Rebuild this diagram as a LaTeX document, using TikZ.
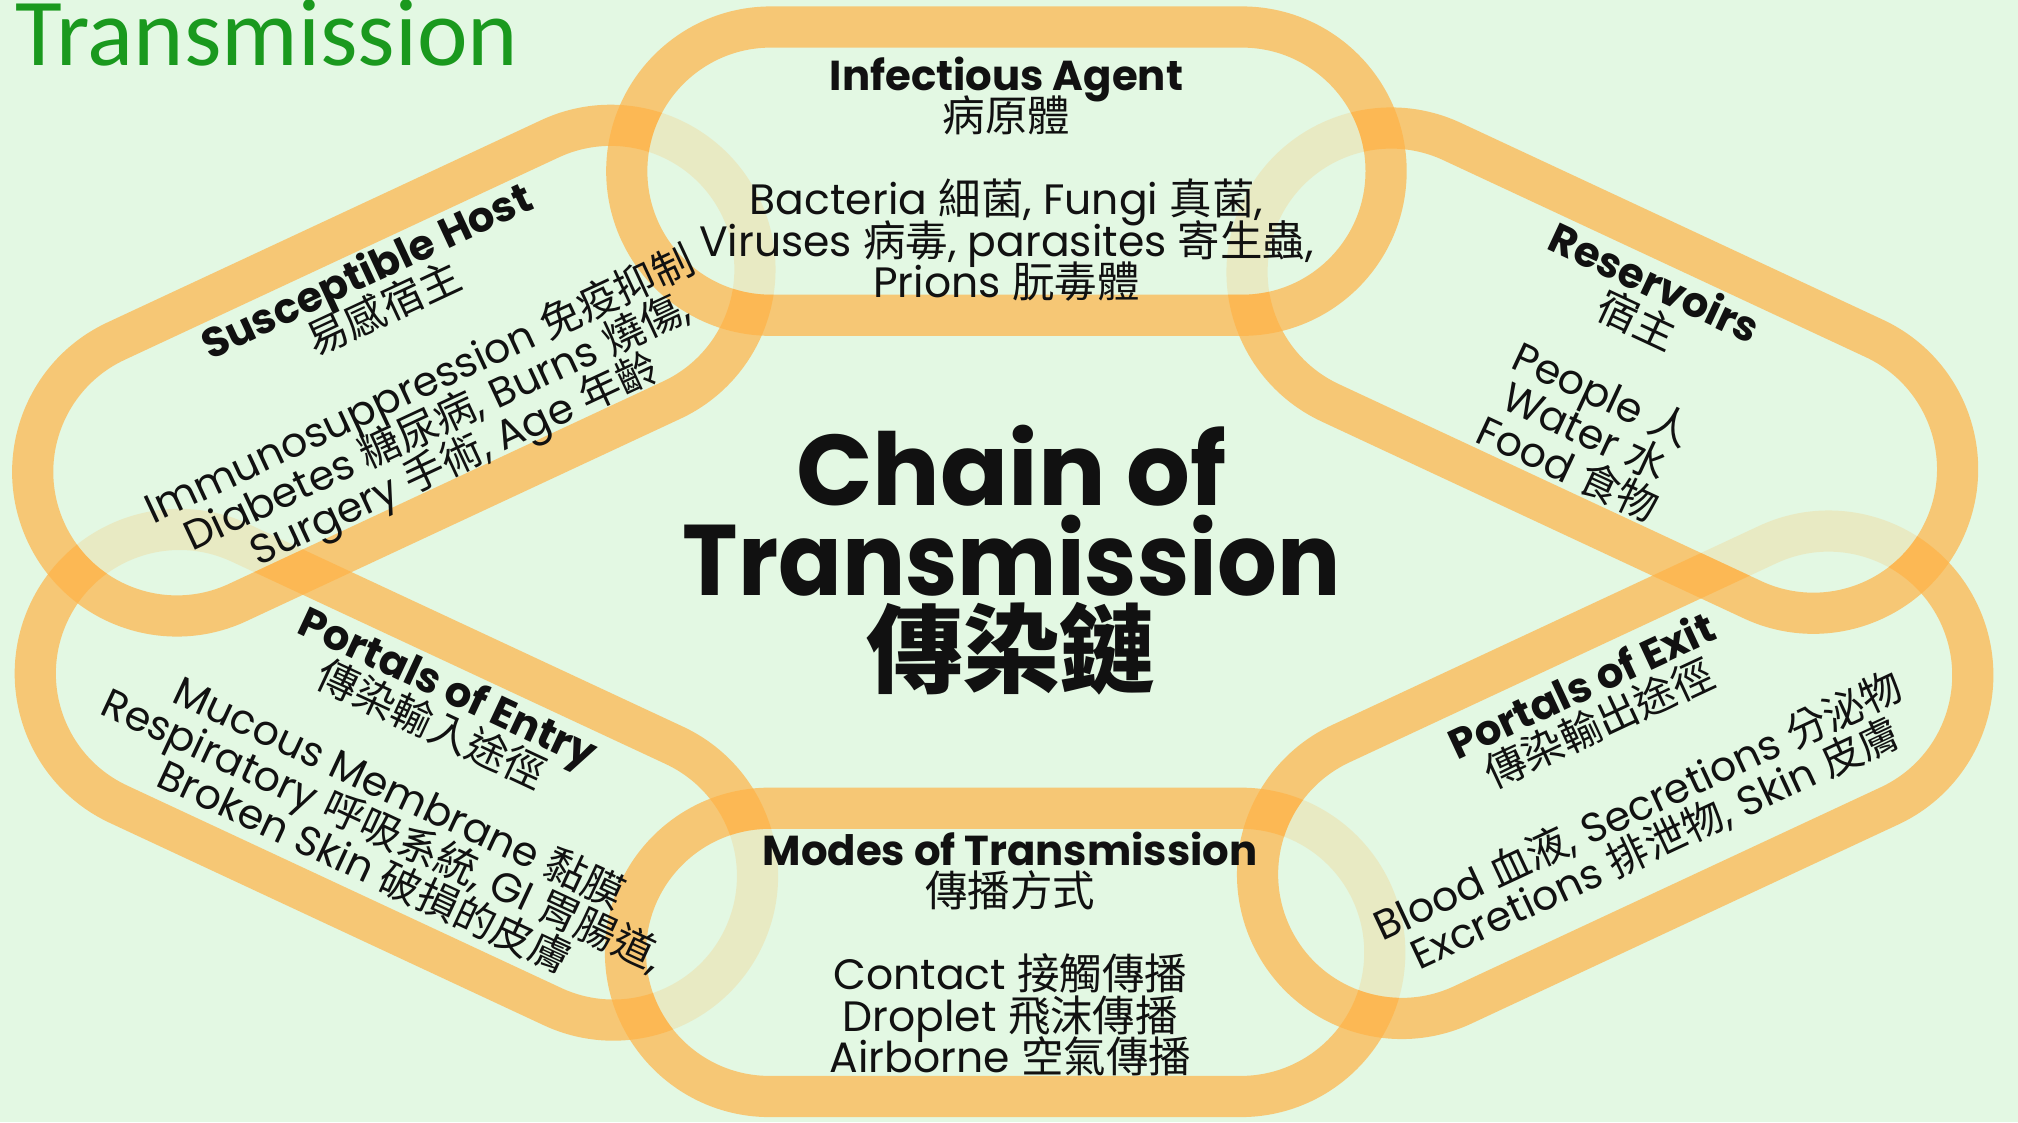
\documentclass[tikz,border=0pt]{standalone}
\usepackage{fontspec}
\setmainfont{Poppins}
\newfontfamily\cjk{Noto Sans CJK TC}
\newfontfamily\carlito{Carlito}
\definecolor{bg}{HTML}{E3F8E3}
\definecolor{ringc}{HTML}{FFB347}
\definecolor{ttl}{HTML}{1A991E}
\definecolor{ink}{HTML}{111111}
% stadium: cx, cy, angle, half-length, radius
\newcommand\stad[5]{(#1,#2) ++(#3+180:#4) ++(#3-90:#5) -- ++(#3:2*#4) arc[start angle=#3-90, end angle=#3+90, radius=#5] -- ++(#3+180:2*#4) arc[start angle=#3+90, end angle=#3+270, radius=#5] -- cycle}
\newcommand\RngI[1]{\stad{782}{739}{0}{183}{#1}}
\newcommand\RngM[1]{\stad{781}{132}{0}{183}{#1}}
\newcommand\RngS[1]{\stad{306}{584}{25}{186}{#1}}
\newcommand\RngR[1]{\stad{1245}{584}{-25}{181}{#1}}
\newcommand\RngE[1]{\stad{308}{270}{-25}{186}{#1}}
\newcommand\RngX[1]{\stad{1255}{270}{25}{183}{#1}}
\newcommand\bigrect{(-50,-50) -- (-50,950) -- (1650,950) -- (1650,-50) -- cycle}
\newcommand\hd[1]{{\bfseries\fontsize{32.5}{32}\selectfont #1}}
\newcommand\tightls{\lineskiplimit-50pt\relax\lineskip0pt\relax}
\begin{document}
\begin{tikzpicture}[x=1pt,y=1pt,
  ring/.style={draw=ringc, line width=32pt, draw opacity=0.7},
  pale/.style={draw=ringc, line width=32pt, draw opacity=0.2},
  lbl/.style={align=center, text=ink, inner sep=0pt, font=\fontsize{33}{32}\selectfont\tightls},
  dlbl/.style={align=center, text=ink, inner sep=0pt, font=\fontsize{32}{32}\selectfont\tightls}]
\useasboundingbox (0,0) rectangle (1568,872);
\fill[bg] (0,0) rectangle (1568,872);
% Infectious Agent ring (over all)
\draw[ring] \RngI{112};
% Susceptible Host (under Infectious)
\begin{scope}\clip \bigrect \RngI{96}; \draw[ring] \RngS{112};\end{scope}
\begin{scope}\clip \RngI{96}; \draw[pale] \RngS{112};\end{scope}
% Reservoirs (under Infectious)
\begin{scope}\clip \bigrect \RngI{96}; \draw[ring] \RngR{112};\end{scope}
\begin{scope}\clip \RngI{96}; \draw[pale] \RngR{112};\end{scope}
% Portals of Exit (under Reservoirs)
\begin{scope}\clip \bigrect \RngR{96}; \draw[ring] \RngX{112};\end{scope}
\begin{scope}\clip \RngR{96}; \draw[pale] \RngX{112};\end{scope}
% Modes (under Exit)
\begin{scope}\clip \bigrect \RngX{96}; \draw[ring] \RngM{112};\end{scope}
\begin{scope}\clip \RngX{96}; \draw[pale] \RngM{112};\end{scope}
% Portals of Entry (under Susceptible and Modes)
\begin{scope}\clip \bigrect \RngS{96} \RngM{96}; \draw[ring] \RngE{112};\end{scope}
\begin{scope}\clip \RngS{96}; \draw[pale] \RngE{112};\end{scope}
\begin{scope}\clip \RngM{96}; \draw[pale] \RngE{112};\end{scope}
% title
\node[font=\carlito\fontsize{74.5}{80}\selectfont, text=ttl, anchor=base west, inner sep=0pt] (ttl) at (12,821) {Transmission};
% texts
\node[lbl] (tI) at (782,733) {\hd{Infectious Agent}\\{\cjk 病原體}\\[33pt]Bacteria {\cjk 細菌}, Fungi {\cjk 真菌},\\Viruses {\cjk 病毒}, parasites {\cjk 寄生蟲},\\Prions {\cjk 朊毒體}};
\node[lbl] (tM) at (785,131) {\hd{Modes of Transmission}\\{\cjk 傳播方式}\\[33pt]Contact {\cjk 接觸傳播}\\Droplet {\cjk 飛沫傳播}\\Airborne {\cjk 空氣傳播}};
\node[dlbl, rotate=25] (tS) at (320,586) {\hd{Susceptible Host}\\{\cjk 易感宿主}\\[33pt]Immunosuppression {\cjk 免疫抑制}\\Diabetes {\cjk 糖尿病}, Burns {\cjk 燒傷},\\Surgery {\cjk 手術}, Age {\cjk 年齡}};
\node[dlbl, rotate=-25] (tR) at (1252,580) {\hd{Reservoirs}\\{\cjk 宿主}\\[31pt]People {\cjk 人}\\Water {\cjk 水}\\Food {\cjk 食物}};
\node[dlbl, rotate=-25] (tE) at (316,268) {\hd{Portals of Entry}\\{\cjk 傳染輸入途徑}\\[26pt]Mucous Membrane {\cjk 黏膜}\\Respiratory {\cjk 呼吸系統}, GI {\cjk 胃腸道},\\Broken Skin {\cjk 破損的皮膚}};
\node[dlbl, rotate=25] (tX) at (1258,277) {\hd{Portals of Exit}\\{\cjk 傳染輸出途徑}\\[39pt]Blood {\cjk 血液}, Secretions {\cjk 分泌物}\\Excretions {\cjk 排泄物}, Skin {\cjk 皮膚}};
\node[align=center, text=ink, inner sep=0pt, font=\bfseries\fontsize{78}{70}\selectfont] (chain) at (786,437) {Chain of\\\scalebox{0.935}[1]{Transmission}\\{\cjk\fontsize{75}{70}\selectfont 傳染鏈}};
\end{tikzpicture}
\end{document}
